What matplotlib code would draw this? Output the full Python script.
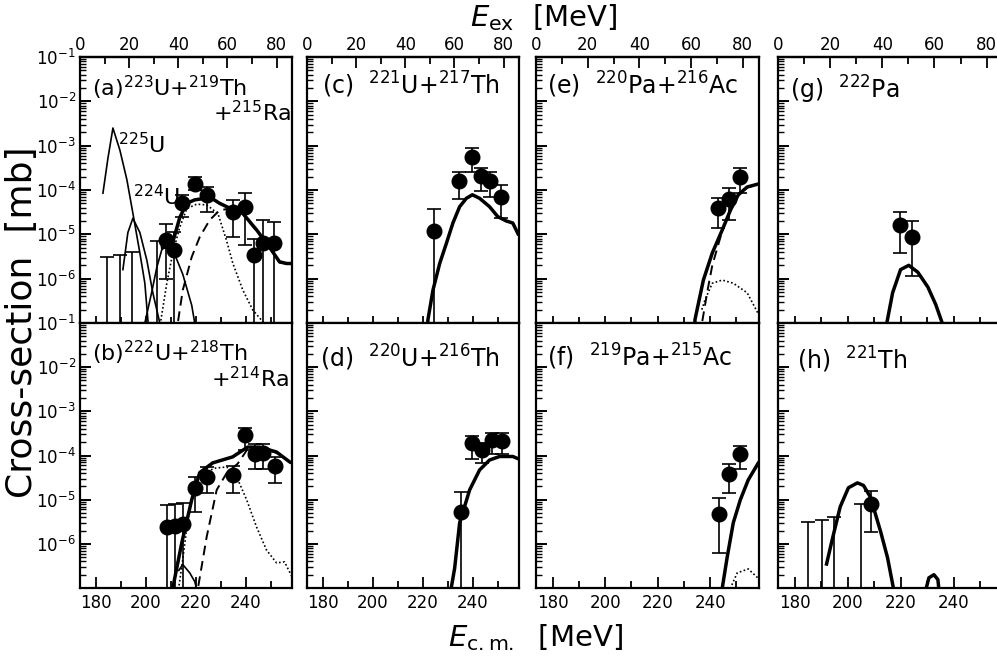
import numpy as np
import matplotlib
matplotlib.use('Agg')
import matplotlib.pyplot as plt
from matplotlib.ticker import LogLocator, NullFormatter, FixedLocator

# ---- data (E_cm in MeV, cross-section in mb) ----
BOTTOM = 1e-9   # error bars that run off the bottom of the panel

# (a) 223U+219Th+215Ra
a_E = [208.0, 211.2, 214.4, 219.6, 224.4, 234.8, 239.6, 243.2, 246.8, 251.2]
a_sig = [7.4e-6, 4.5e-6, 5.0e-5, 1.4e-4, 7.8e-5, 3.2e-5, 4.2e-5, 3.4e-6, 6.3e-6, 6.3e-6]
a_hi = [1.7e-5, 1.12e-5, 7.8e-5, 1.95e-4, 1.17e-4, 5.9e-5, 8.5e-5, 7.9e-6, 2.1e-5, 1.9e-5]
a_lo = [1.0e-6, BOTTOM, 2.5e-5, 1.0e-4, 3.2e-5, 8.7e-6, 5.6e-6, BOTTOM, BOTTOM, BOTTOM]
a_lim_E = [184.4, 189.6, 194.4, 204.4]
a_lim = [3.1e-6, 3.4e-6, 4.0e-6, 7.1e-6]
a_225U_E = [182.8, 184.8, 186.8, 189.6, 192.4, 194.8, 197.6, 199.6, 200.8, 201.5]
a_225U = [8.5e-5, 5.2e-4, 2.5e-3, 7.9e-4, 1.7e-4, 3.0e-5, 3.8e-6, 7.9e-7, 1.2e-7, 5e-8]
a_224U_E = [190.8, 192.8, 194.8, 197.6, 200.4, 202.8, 205.6, 206.5]
a_224U = [1.6e-6, 1.1e-5, 2.3e-5, 1.1e-5, 2.6e-6, 4.8e-7, 1.0e-7, 5e-8]
a_223U_E = [199.0, 199.6, 202.4, 204.4, 206.4, 208.4, 211.6, 214.8, 218.4, 219.6, 220.2]
a_223U = [5e-8, 1e-7, 5.1e-7, 1.8e-6, 4.5e-6, 5.6e-6, 3.5e-6, 1.26e-6, 2.5e-7, 1e-7, 5e-8]
a_sum_E = [206.0, 209.0, 211.2, 213.6, 216.4, 219.6, 223.2, 226.8, 229.6, 233.6, 238.8,
           244.4, 249.6, 253.6, 256.4, 258.6]
a_sum = [5.0e-6, 5.2e-6, 8.0e-6, 2.4e-5, 5.0e-5, 6.0e-5, 6.4e-5, 6.3e-5, 5.0e-5, 3.9e-5, 3.0e-5,
         1.26e-5, 5.1e-6, 2.4e-6, 2.2e-6, 2.2e-6]
a_dash_E = [212.0, 214.8, 218.4, 221.6, 225.6, 229.6, 233.6, 238.8, 244.4, 249.6, 253.6, 258.6]
a_dash = [5e-8, 5.5e-7, 3.1e-6, 8.7e-6, 2.1e-5, 3.5e-5, 3.8e-5, 2.9e-5, 1.2e-5, 5.0e-6, 2.3e-6, 2.1e-6]
a_dot_E = [205.0, 208.4, 210.8, 213.6, 216.4, 220.4, 224.4, 228.9, 232.3, 234.9, 238.9,
           242.9, 246.9, 248.0]
a_dot = [5e-8, 7.9e-7, 3.8e-6, 1.45e-5, 3.8e-5, 4.8e-5, 4.6e-5, 2.95e-5, 7.4e-6, 2.2e-6, 5.5e-7,
         1.95e-7, 1.07e-7, 5e-8]

# (b) 222U+218Th+214Ra
b_E = [208.4, 211.6, 214.8, 219.6, 224.4, 234.8, 239.6, 243.6, 246.8, 251.6]
b_sig = [2.4e-6, 2.5e-6, 2.8e-6, 1.86e-5, 3.3e-5, 3.6e-5, 2.95e-4, 1.1e-4, 1.15e-4, 5.8e-5]
b_hi = [7.6e-6, 7.9e-6, 8.5e-6, 3.3e-5, 5.5e-5, 5.9e-5, 4.2e-4, 1.78e-4, 1.78e-4, 9.3e-5]
b_lo = [BOTTOM, BOTTOM, BOTTOM, 5.2e-6, 1.4e-5, 1.4e-5, 1.35e-4, 5.0e-5, 5.0e-5, 2.4e-5]
b_sum_E = [210.2, 210.8, 214.4, 218.4, 221.6, 226.8, 234.8, 240.8, 245.6, 252.4, 257.6, 258.6]
b_sum = [5e-8, 1e-7, 1.05e-6, 1.0e-5, 4.1e-5, 6.8e-5, 9.3e-5, 1.55e-4, 1.55e-4, 1.2e-4, 7.2e-5, 6.8e-5]
b_dash_E = [220.0, 224.4, 228.4, 232.4, 236.8, 240.8, 245.6, 252.4, 258.6]
b_dash = [5e-8, 1.45e-6, 1.66e-5, 4.0e-5, 6.5e-5, 1.4e-4, 1.5e-4, 1.15e-4, 6.5e-5]
b_dot_E = [212.4, 214.8, 216.8, 219.6, 223.6, 228.0, 232.4, 236.4, 240.4, 244.4, 248.4,
           252.4, 255.6, 258.6]
b_dot = [5e-8, 4.4e-7, 3.5e-6, 1.66e-5, 4.2e-5, 5.2e-5, 5.5e-5, 3.3e-5, 1.0e-5, 2.4e-6, 7.2e-7,
         3.7e-7, 3.9e-7, 1.8e-7]
b_thin_E = [213.2, 214.8, 217.6, 219.6, 221.6]
b_thin = [2.5e-7, 3.4e-7, 2.2e-7, 1.4e-7, 5e-8]

# (c) 221U+217Th
c_E = [224.4, 234.4, 239.6, 243.2, 246.8, 251.2]
c_sig = [1.17e-5, 1.58e-4, 5.5e-4, 2.1e-4, 1.58e-4, 6.9e-5]
c_hi = [3.7e-5, 2.6e-4, 8.9e-4, 3.2e-4, 2.6e-4, 1.29e-4]
c_lo = [BOTTOM, 6.3e-5, 2.6e-4, 9.5e-5, 6.9e-5, 2.3e-5]
c_sum_E = [221.5, 222.1, 224.1, 226.8, 229.5, 232.1, 234.8, 237.5, 239.9, 242.8, 246.8,
           250.1, 253.5, 256.1, 258.5]
c_sum = [5e-8, 1.2e-7, 5.5e-7, 2.2e-6, 6.3e-6, 1.8e-5, 4.2e-5, 6.5e-5, 7.8e-5, 6.5e-5, 4.2e-5,
         2.5e-5, 2.0e-5, 1.8e-5, 9.5e-6]

# (d) 220U+216Th
d_E = [235.2, 239.6, 243.6, 247.6, 251.6]
d_sig = [5.2e-6, 1.95e-4, 1.35e-4, 2.2e-4, 2.1e-4]
d_hi = [1.5e-5, 2.75e-4, 1.9e-4, 3.2e-4, 3.2e-4]
d_lo = [BOTTOM, 8.3e-5, 6.8e-5, 1.1e-4, 1.1e-4]
d_sum_E = [230.5, 232.8, 234.8, 238.8, 242.8, 246.8, 250.8, 256.1, 258.6]
d_sum = [5e-8, 2.8e-7, 3.0e-6, 1.66e-5, 4.7e-5, 7.9e-5, 9.5e-5, 9.5e-5, 8.3e-5]

# (e) 220Pa+216Ac
e_E = [243.1, 247.3, 251.5]
e_sig = [3.9e-5, 6.3e-5, 2.0e-4]
e_hi = [6.6e-5, 1.1e-4, 3.2e-4]
e_lo = [1.38e-5, 2.1e-5, 8.7e-5]
e_sum_E = [234.0, 234.2, 237.4, 240.8, 244.6, 247.7, 250.7, 254.1, 258.6]
e_sum = [5e-8, 1.2e-7, 9.3e-7, 3.8e-6, 1.26e-5, 3.5e-5, 7.8e-5, 1.17e-4, 1.38e-4]
e_dash_E = [236.0, 239.0, 240.8, 244.6, 247.7, 250.7, 254.1, 258.6]
e_dash = [5e-8, 5.5e-7, 2.0e-6, 1.2e-5, 3.4e-5, 7.6e-5, 1.14e-4, 1.35e-4]
e_dot_E = [236.8, 238.0, 240.8, 244.6, 248.8, 254.1, 258.6]
e_dot = [2e-7, 3.3e-7, 7.9e-7, 9.3e-7, 7.9e-7, 4.8e-7, 1.5e-7]

# (f) 219Pa+215Ac
f_E = [243.5, 247.3, 251.5]
f_sig = [4.8e-6, 3.8e-5, 1.1e-4]
f_hi = [1.1e-5, 6.5e-5, 1.66e-4]
f_lo = [6.3e-7, 1.4e-5, 5.0e-5]
f_sum_E = [244.0, 246.5, 248.8, 251.5, 254.5, 258.6]
f_sum = [6e-8, 5.1e-7, 3.0e-6, 1.0e-5, 2.8e-5, 7.2e-5]
f_dot_E = [247.0, 250.3, 254.5, 258.6]
f_dot = [8e-8, 2.2e-7, 2.7e-7, 1.6e-7]

# (g) 222Pa
g_E = [219.5, 224.4]
g_sig = [1.6e-5, 8.7e-6]
g_hi = [3.2e-5, 2.0e-5]
g_lo = [3.8e-6, 1.15e-6]
g_sum_E = [214.4, 216.9, 219.9, 223.0, 226.4, 230.2, 233.2, 236.2]
g_sum = [8e-8, 4.8e-7, 1.6e-6, 2.0e-6, 1.4e-6, 6.5e-7, 2.6e-7, 8e-8]

# (h) 221Th
h_E = [208.9]
h_sig = [7.9e-6]
h_hi = [1.6e-5]
h_lo = [1.86e-6]
h_lim_E = [184.9, 190.3, 194.8, 205.1]
h_lim = [3.2e-6, 3.5e-6, 4.1e-6, 7.9e-6]
h_sum_E = [191.8, 194.1, 197.1, 200.2, 203.6, 205.9, 208.5, 212.4, 215.0, 217.5]
h_sum = [3.2e-7, 1.26e-6, 6.9e-6, 1.86e-5, 2.4e-5, 2.1e-5, 1.15e-5, 1.86e-6, 4.8e-7, 8e-8]
h_bump_E = [229.2, 230.6, 232.5, 234.0, 234.5]
h_bump = [8e-8, 1.7e-7, 2.0e-7, 1.55e-7, 8e-8]

# tick labels
x_ticks = [180, 200, 220, 240]
x_minor = [190, 210, 230, 250]
ex_ticks = [0, 20, 40, 60, 80]
ex_minor = [10, 30, 50, 70]
decades = [1e-7, 1e-6, 1e-5, 1e-4, 1e-3, 1e-2, 1e-1]
ylab_top = [r'10$^{-1}$', r'10$^{-6}$', r'10$^{-5}$', r'10$^{-4}$', r'10$^{-3}$', r'10$^{-2}$', r'10$^{-1}$']
ylab_bot = ['', r'10$^{-6}$', r'10$^{-5}$', r'10$^{-4}$', r'10$^{-3}$', r'10$^{-2}$', '']

W, H = 997, 660
# panel boxes in pixels: left, width   (rows share top/bottom)
cols = [(80, 212), (307, 212), (536, 223), (778, 225)]
rows = [(57, 266), (323, 265)]


def to_ex(e):
    return (e - 173.6) * 1.015


def to_cm(x):
    return x / 1.015 + 173.6


def make_axes(row, col):
    left, width = cols[col]
    top, height = rows[row]
    ax = plt.gcf().add_axes([left / W, 1 - (top + height) / H, width / W, height / H])
    ax.set_yscale('log')
    ax.set_xlim(173.6, 258.6)
    ax.set_ylim(1e-7, 1e-1)
    for s in ax.spines.values():
        s.set_linewidth(1.6)
    ax.set_xticks(x_ticks)
    ax.set_xticks(x_minor, minor=True)
    labels = ylab_top if row == 0 else ylab_bot
    ax.set_yticks(decades, labels=labels if col == 0 else [''] * len(decades))
    ax.yaxis.set_minor_locator(LogLocator(base=10, subs=np.arange(2, 10)))
    ax.yaxis.set_minor_formatter(NullFormatter())
    ax.tick_params(axis='y', which='both', direction='in', right=False, labelsize=12, pad=3)
    ax.tick_params(axis='y', which='major', length=8, width=1.4)
    ax.tick_params(axis='y', which='minor', length=4, width=1.0)
    if row == 0:
        ax.tick_params(axis='x', which='both', direction='inout', top=False,
                       labelbottom=False, width=1.3)
        ax.tick_params(axis='x', which='major', length=10)
        ax.tick_params(axis='x', which='minor', length=9)
        sec = ax.secondary_xaxis('top', functions=(to_ex, to_cm))
        sec.set_xticks(ex_ticks)
        sec.xaxis.set_minor_locator(FixedLocator(ex_minor))
        sec.tick_params(which='both', direction='in', labelsize=12, pad=2, width=1.3)
        sec.tick_params(which='major', length=8)
        sec.tick_params(which='minor', length=5)
        sec.spines['top'].set_linewidth(1.6)
    else:
        ax.tick_params(axis='x', which='both', direction='in', top=False,
                       labelsize=12, pad=4, width=1.3)
        ax.tick_params(axis='x', which='major', length=8)
        ax.tick_params(axis='x', which='minor', length=5)
    return ax


def points(ax, E, sig, hi, lo):
    sig = np.array(sig)
    yerr = [sig - np.array(lo), np.array(hi) - sig]
    ax.errorbar(E, sig, yerr=yerr, fmt='o', ms=10.5, color='black', ecolor='black',
                elinewidth=1.2, capsize=5, capthick=1.2, zorder=5)


def limits(ax, E, top):
    top = np.array(top)
    ax.errorbar(E, top, yerr=[top - BOTTOM, np.zeros_like(top)], fmt='none', ecolor='black',
                elinewidth=1.2, capsize=5, capthick=1.2, zorder=4)


def thick(ax, E, s):
    ax.plot(E, s, color='black', lw=2.5, solid_capstyle='butt', zorder=3)


def thin(ax, E, s):
    ax.plot(E, s, color='black', lw=1.2, zorder=3)


def dashed(ax, E, s):
    ax.plot(E, s, color='black', lw=1.4, dashes=(5, 3), zorder=2)


def dotted(ax, E, s):
    ax.plot(E, s, color='black', lw=1.2, dashes=(1, 1.4), zorder=2)


fig = plt.figure(figsize=(W / 100, H / 100), dpi=100)
TS = 17

ax = make_axes(0, 0)
limits(ax, a_lim_E, a_lim)
thin(ax, a_225U_E, a_225U)
thin(ax, a_224U_E, a_224U)
thin(ax, a_223U_E, a_223U)
dotted(ax, a_dot_E, a_dot)
dashed(ax, a_dash_E, a_dash)
thick(ax, a_sum_E, a_sum)
points(ax, a_E, a_sig, a_hi, a_lo)
ax.text(0.057, 0.885, r'(a)$^{223}$U+$^{219}$Th', transform=ax.transAxes, fontsize=16, va='center')
ax.text(0.995, 0.79, r'+$^{215}$Ra', transform=ax.transAxes, fontsize=16, va='center', ha='right')
ax.text(0.179, 0.669, r'$^{225}$U', transform=ax.transAxes, fontsize=16, va='center')
ax.text(0.25, 0.474, r'$^{224}$U', transform=ax.transAxes, fontsize=16, va='center')

ax = make_axes(1, 0)
thin(ax, b_thin_E, b_thin)
dotted(ax, b_dot_E, b_dot)
dashed(ax, b_dash_E, b_dash)
thick(ax, b_sum_E, b_sum)
points(ax, b_E, b_sig, b_hi, b_lo)
ax.text(0.057, 0.889, r'(b)$^{222}$U+$^{218}$Th', transform=ax.transAxes, fontsize=16, va='center')
ax.text(0.985, 0.79, r'+$^{214}$Ra', transform=ax.transAxes, fontsize=16, va='center', ha='right')

ax = make_axes(0, 1)
thick(ax, c_sum_E, c_sum)
points(ax, c_E, c_sig, c_hi, c_lo)
ax.text(0.071, 0.895, r'(c)  $^{221}$U+$^{217}$Th', transform=ax.transAxes, fontsize=TS, va='center')

ax = make_axes(1, 1)
thick(ax, d_sum_E, d_sum)
points(ax, d_E, d_sig, d_hi, d_lo)
ax.text(0.061, 0.868, r'(d)  $^{220}$U+$^{216}$Th', transform=ax.transAxes, fontsize=TS, va='center')

ax = make_axes(0, 2)
dotted(ax, e_dot_E, e_dot)
dashed(ax, e_dash_E, e_dash)
thick(ax, e_sum_E, e_sum)
points(ax, e_E, e_sig, e_hi, e_lo)
ax.text(0.049, 0.895, r'(e)  $^{220}$Pa+$^{216}$Ac', transform=ax.transAxes, fontsize=TS, va='center')

ax = make_axes(1, 2)
dotted(ax, f_dot_E, f_dot)
thick(ax, f_sum_E, f_sum)
points(ax, f_E, f_sig, f_hi, f_lo)
ax.text(0.049, 0.872, r'(f)  $^{219}$Pa+$^{215}$Ac', transform=ax.transAxes, fontsize=TS, va='center')

ax = make_axes(0, 3)
thick(ax, g_sum_E, g_sum)
points(ax, g_E, g_sig, g_hi, g_lo)
ax.text(0.053, 0.876, r'(g)  $^{222}$Pa', transform=ax.transAxes, fontsize=TS, va='center')

ax = make_axes(1, 3)
limits(ax, h_lim_E, h_lim)
thick(ax, h_sum_E, h_sum)
thick(ax, h_bump_E, h_bump)
points(ax, h_E, h_sig, h_hi, h_lo)
ax.text(0.084, 0.86, r'(h)  $^{221}$Th', transform=ax.transAxes, fontsize=TS, va='center')

fig.text(0.545, 1 - 18 / H, r'$E_{\rm ex}$  [MeV]', ha='center', va='center', fontsize=21)
fig.text(0.537, 1 - 638 / H, r'$E_{\rm c.m.}$  [MeV]', ha='center', va='center', fontsize=21)
fig.text(22 / W, 1 - 322 / H, 'Cross-section  [mb]', rotation=90, ha='center', va='center', fontsize=26)

fig.savefig('out.png', dpi=100)
plt.close(fig)
